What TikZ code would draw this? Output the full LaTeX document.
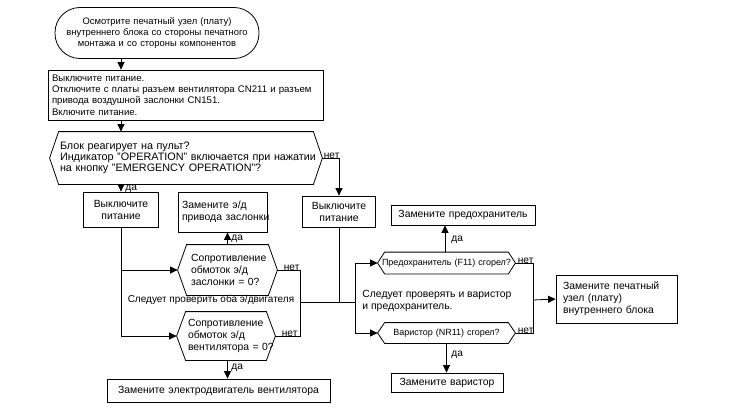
\documentclass[tikz,border=0pt]{standalone}
\usepackage{fontspec}
\setmainfont{Liberation Sans}
\usetikzlibrary{arrows.meta}
\newcommand\hexoutline[2]{%
  \draw[line width=0.8pt] ([xshift=#2]#1.north west) -- ([xshift=-#2]#1.north east) -- (#1.east)
    -- ([xshift=-#2]#1.south east) -- ([xshift=#2]#1.south west) -- (#1.west) -- cycle;}
\begin{document}
\begin{tikzpicture}[x=1pt,y=-1pt,
  every node/.style={font=\fontsize{10.4}{12}\selectfont, inner sep=0pt},
  line width=0.8pt,
  arr/.style={-{Triangle[length=7.5pt,width=7pt]}},
  boxc/.style={draw, line width=0.8pt, align=center},
  boxl/.style={draw, line width=0.8pt, align=left},
  hexn/.style={align=left},
  small/.style={font=\fontsize{9}{10}\selectfont},
  lbl/.style={font=\fontsize{10.2}{11}\selectfont}]
\useasboundingbox (0,0) rectangle (730,412);
\fill[white] (0,0) rectangle (730,412);

% nodes
\node[boxc, rounded corners=25pt, minimum width=204pt, minimum height=51pt, text width=194pt,
  font=\fontsize{9.4}{11}\selectfont] (start) at (157,33)
  {Осмотрите печатный узел (плату)\\внутреннего блока со стороны печатного\\монтажа и со стороны компонентов};
\node[boxl, minimum width=275pt, minimum height=50pt, text width=267pt, inner xsep=4pt,
  font=\fontsize{9.6}{11.2}\selectfont] (box2) at (185.5,95)
  {Выключите питание.\\\mbox{Отключите с платы разъем вентилятора CN211 и разъем}\\привода воздушной заслонки CN151.\\Включите питание.};
\node[hexn, minimum width=272pt, minimum height=52pt, text width=252pt, inner xsep=10pt,
  font=\fontsize{10.8}{11.3}\selectfont] (hex1) at (186,158)
  {Блок реагирует на пульт?\\\mbox{Индикатор "OPERATION" включается при нажатии}\\\mbox{на кнопку "EMERGENCY OPERATION"?}};
\hexoutline{hex1}{9pt}
\node[boxc, minimum width=75pt, minimum height=35pt, text width=75pt] (box3) at (121,209.5) {Выключите\\питание};
\node[boxl, minimum width=89pt, minimum height=40pt, text width=81pt, inner xsep=4pt] (box4) at (222.5,212)
  {\mbox{Замените э/д}\\\mbox{привода заслонки}};
\node[boxc, minimum width=73pt, minimum height=31pt, text width=73pt] (box5) at (339,211.5) {Выключите\\питание};
\node[hexn, minimum width=99pt, minimum height=50pt, text width=73pt, inner xsep=13pt] (hex2) at (227.5,270)
  {\mbox{Сопротивление}\\\mbox{обмоток э/д}\\\mbox{заслонки = 0?}};
\hexoutline{hex2}{9pt}
\node[hexn, minimum width=98pt, minimum height=48pt, text width=76pt, inner xsep=11pt] (hex3) at (226,336)
  {\mbox{Сопротивление}\\\mbox{обмоток э/д}\\\mbox{вентилятора = 0?}};
\hexoutline{hex3}{9pt}
\node[boxc, minimum width=223pt, minimum height=23pt, text width=223pt] (box6) at (218.5,390.5) {Замените электродвигатель вентилятора};
\node[font=\fontsize{10}{11}\selectfont] (both) at (211,300) {Следует проверить оба э/двигателя};

\node[hexn, small, align=center, minimum width=137pt, minimum height=21pt, text width=137pt] (hex4) at (446.5,263) {Предохранитель (F11) сгорел?};
\hexoutline{hex4}{7pt}
\node[hexn, small, align=center, minimum width=137pt, minimum height=20pt, text width=137pt] (hex5) at (446.5,333) {Варистор (NR11) сгорел?};
\hexoutline{hex5}{7pt}
\node[boxc, minimum width=144pt, minimum height=20pt, text width=144pt] (box7) at (463,215) {Замените предохранитель};
\node[boxc, minimum width=112pt, minimum height=19pt, text width=112pt] (box8) at (447,382.5) {Замените варистор};
\node[boxl, minimum width=121pt, minimum height=48pt, text width=107pt, inner xsep=7pt] (box9) at (616.5,299)
  {\mbox{Замените печатный}\\\mbox{узел (плату)}\\\mbox{внутреннего блока}};
\node[align=left, anchor=west] (both2) at (362,301) {Следует проверять и варистор\\и предохранитель.};

% coordinates
\coordinate (xa) at (121,0);
\coordinate (j1) at (300,302);
\coordinate (j2) at (355,302);
\coordinate (j3) at (533,300);

% connectors
\draw[arr] (start.south -| xa) -- (box2.north -| xa);
\draw[arr] (box2.south -| xa) -- (hex1.north -| xa);
\draw[arr] (hex1.south -| box3) -- (box3.north);
\draw[arr] (hex1.east) -| (box5.north);
\draw[arr] (box3.south) |- (hex3.west);
\draw[arr] (box3.south |- hex2.west) -- (hex2.west);
\draw[arr] (hex2.north) -- (hex2.north |- box4.south);
\draw[arr] (hex3.south -| hex2.north) -- (box6.north -| hex2.north);
\draw (hex2.east) -| (j1);
\draw (hex3.east) -| (j1);
\draw (box5.south) -- (box5.south |- j1);
\draw (j1) -- (j2);
\draw[arr] (j2) |- (hex4.west);
\draw[arr] (j2) |- (hex5.west);
\draw[arr] (hex4.north -| 445,0) -- (box7.south -| 445,0);
\draw[arr] (hex5.south) -- (box8.north -| hex5.south);
\draw (hex4.east) -| (j3);
\draw (hex5.east) -| (j3);
\draw[arr] (j3) -- (box9.west);

% labels
\node[lbl, anchor=south west] (l1) at ([xshift=1pt,yshift=-1pt]hex1.east) {нет};
\node[lbl, anchor=west] (l2) at (125,189) {да};
\node[lbl, anchor=west] (l3) at (231,239) {да};
\node[lbl, anchor=south west] (l4) at ([xshift=6pt,yshift=-1pt]hex2.east) {нет};
\node[lbl, anchor=south west] (l5) at ([xshift=6pt,yshift=-1pt]hex3.east) {нет};
\node[lbl, anchor=west] (l6) at (231,368) {да};
\node[lbl, anchor=west] (l7) at (451,240) {да};
\node[lbl, anchor=south west] (l8) at ([xshift=2pt,yshift=-1pt]hex4.east) {нет};
\node[lbl, anchor=south west] (l9) at ([xshift=2pt,yshift=-1pt]hex5.east) {нет};
\node[lbl, anchor=west] (l10) at (451,355) {да};
\end{tikzpicture}
\end{document}
